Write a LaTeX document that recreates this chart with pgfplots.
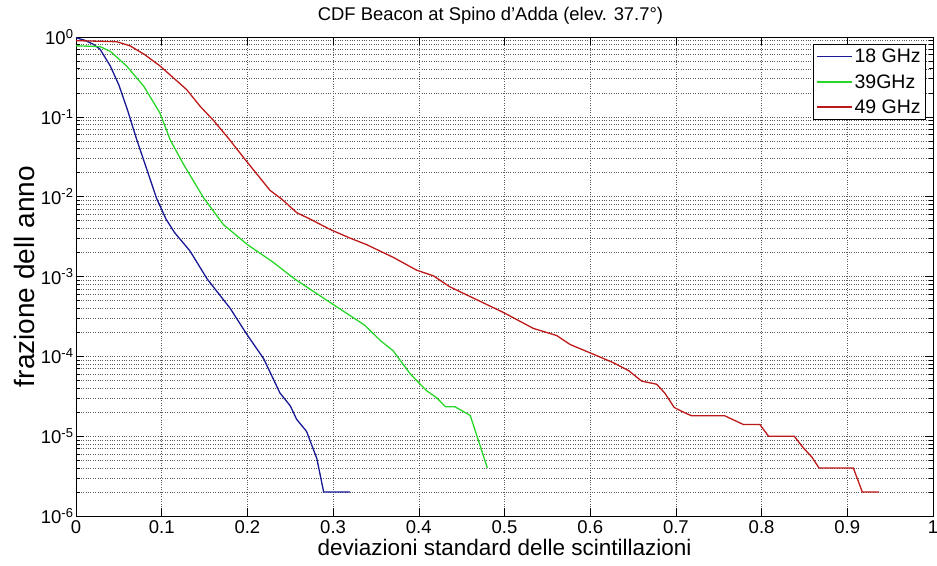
\documentclass[border=0pt]{standalone}
\usepackage{pgfplots}
\pgfplotsset{compat=1.18}
\usepackage{fontspec}
\setmainfont{Liberation Sans}
\definecolor{mblue}{RGB}{25,25,150}
\definecolor{mgreen}{RGB}{40,215,40}
\definecolor{mred}{RGB}{190,25,25}
\begin{document}
\begin{tikzpicture}
\begin{axis}[
  scale only axis,
  width=857pt, height=479pt,
  xmin=0, xmax=1,
  ymode=log, ymin=1e-6, ymax=1,
  xtick={0,0.1,0.2,0.3,0.4,0.5,0.6,0.7,0.8,0.9,1},
  xticklabels={0,0.1,0.2,0.3,0.4,0.5,0.6,0.7,0.8,0.9,1},
  ytick={1e-6,1e-5,1e-4,1e-3,1e-2,1e-1,1},
  yticklabels={10\textsuperscript{-6},10\textsuperscript{-5},10\textsuperscript{-4},10\textsuperscript{-3},10\textsuperscript{-2},10\textsuperscript{-1},10\textsuperscript{0}},
  minor ytick={2e-6,3e-6,4e-6,5e-6,6e-6,7e-6,8e-6,9e-6,
    2e-5,3e-5,4e-5,5e-5,6e-5,7e-5,8e-5,9e-5,
    2e-4,3e-4,4e-4,5e-4,6e-4,7e-4,8e-4,9e-4,
    2e-3,3e-3,4e-3,5e-3,6e-3,7e-3,8e-3,9e-3,
    2e-2,3e-2,4e-2,5e-2,6e-2,7e-2,8e-2,9e-2,
    0.2,0.3,0.4,0.5,0.6,0.7,0.8,0.9},
  grid=both,
  major grid style={dotted, black!65, line width=0.5pt},
  minor grid style={dotted, black!65, line width=0.5pt},
  tick align=inside,
  major tick length=8pt,
  minor tick length=4.5pt,
  tick style={black, line width=0.6pt},
  axis line style={black, line width=0.8pt},
  ticklabel style={font=\fontsize{18.5}{20}\selectfont},
  xticklabel style={yshift=-1pt},
  yticklabel style={xshift=1pt},
  title={CDF Beacon at Spino d'Adda (elev. 37.7°)},
  title style={font=\fontsize{18.4}{20}\selectfont, at={(0.5,1)}, anchor=south, xshift=-14pt, yshift=3pt},
  xlabel={deviazioni standard delle scintillazioni},
  ylabel={frazione dell anno},
  xlabel style={font=\fontsize{22.5}{24}\selectfont, yshift=1pt},
  ylabel style={font=\fontsize{28}{30}\selectfont, at={(axis description cs:0,0.5)}, anchor=south, yshift=38pt},
  legend style={at={(1,1)}, anchor=north east, xshift=-7pt, yshift=-7pt, draw=black, line width=0.6pt,
    font=\fontsize{19.5}{21}\selectfont, inner xsep=3pt, inner ysep=3pt, row sep=6pt},
  legend cell align=left,
  legend image code/.code={\draw[#1, line width=1.2pt] (0pt,0pt) -- (35pt,0pt);},
]
\addplot[mblue, line width=1.3pt] coordinates {
(0,0.977) (0.01,0.912) (0.02,0.813) (0.028,0.705) (0.04,0.434) (0.05,0.251)
(0.06,0.1227) (0.071,0.0513) (0.083,0.0214) (0.094,0.00955) (0.105,0.00525)
(0.115,0.00355) (0.133,0.00209) (0.153,0.000933) (0.18,0.000398) (0.199,0.000191)
(0.219,9.33e-5) (0.238,3.47e-5) (0.25,2.40e-5) (0.2575,1.62e-5) (0.269,1.15e-5)
(0.281,5.25e-6) (0.289,2e-6) (0.32,2e-6)
};
\addlegendentry{18 GHz}
\addplot[mgreen, line width=1.3pt] coordinates {
(0,0.776) (0.028,0.759) (0.04,0.661) (0.059,0.434) (0.079,0.242) (0.098,0.1114)
(0.11,0.0513) (0.125,0.02594) (0.1486,0.00977) (0.172,0.00447) (0.2,0.00251)
(0.23,0.00151) (0.255,0.000933) (0.3,0.000447) (0.337,0.000245) (0.355,0.000158)
(0.37,0.0001175) (0.39,6.03e-5) (0.409,3.72e-5) (0.421,3.02e-5) (0.431,2.34e-5)
(0.442,2.34e-5) (0.46,1.82e-5) (0.48,4e-6)
};
\addlegendentry{39GHz}
\addplot[mred, line width=1.3pt] coordinates {
(0,0.90) (0.0475,0.873) (0.063,0.776) (0.08,0.603) (0.098,0.434) (0.129,0.22)
(0.145,0.135) (0.16,0.0912) (0.178,0.0537) (0.197,0.0295) (0.2264,0.0120)
(0.24,0.00933) (0.2575,0.00631) (0.273,0.00525) (0.2964,0.00389) (0.32,0.00302)
(0.339,0.00251) (0.37,0.00174) (0.3975,0.00120) (0.417,0.00102) (0.4364,0.000741)
(0.4636,0.000537) (0.4986,0.000355) (0.5336,0.000224) (0.561,0.000182)
(0.5764,0.000141) (0.6076,0.000102) (0.627,8.32e-5) (0.645,6.61e-5) (0.66,4.90e-5)
(0.6776,4.47e-5) (0.687,3.47e-5) (0.698,2.29e-5) (0.7087,2.0e-5) (0.7184,1.8e-5)
(0.757,1.8e-5) (0.7787,1.4e-5) (0.798,1.4e-5) (0.808,1e-5) (0.838,1e-5)
(0.849,7.08e-6) (0.8585,5.5e-6) (0.867,4e-6) (0.907,4e-6) (0.9175,2e-6) (0.937,2e-6)
};
\addlegendentry{49 GHz}
\end{axis}
\pgfresetboundingbox
\path ([shift={(-76pt,-49pt)}]current axis.south west) rectangle ([shift={(4pt,37pt)}]current axis.north east);
\end{tikzpicture}
\end{document}
